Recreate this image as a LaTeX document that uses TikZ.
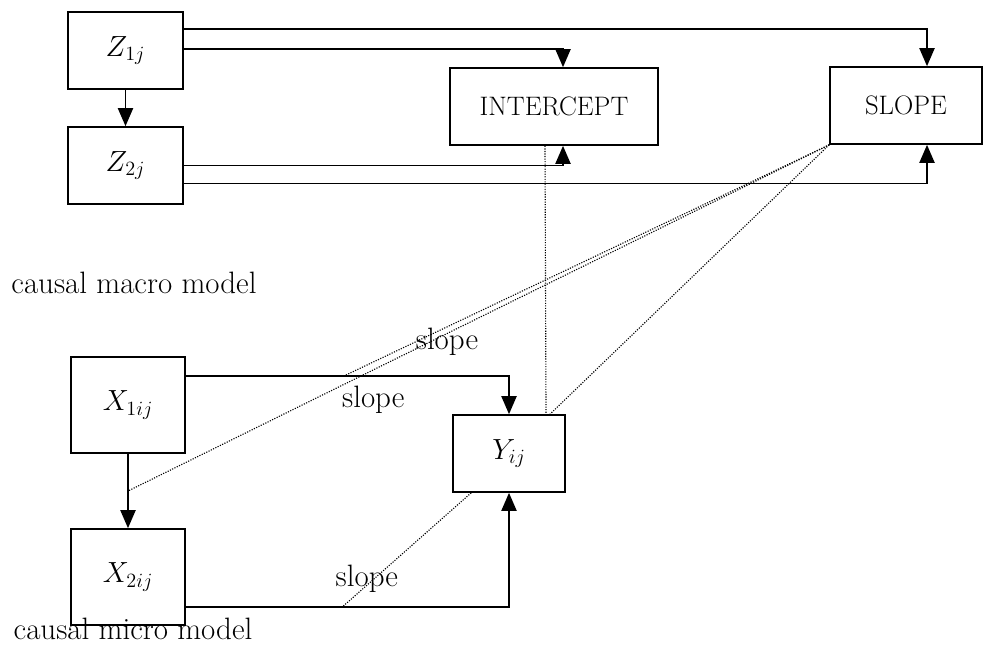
\documentclass[tikz,border=0pt]{standalone}
\usepackage{amssymb}
\usepackage{tikz}
\usetikzlibrary{arrows.meta}

\begin{document}
\begin{tikzpicture}[x=0.025cm,y=-0.025cm,
	box/.style={draw,line width=1.2pt,inner sep=0pt,minimum height=1.925cm,font=\fontsize{22}{26}\selectfont},
	link/.style={line width=1pt,-{Triangle[length=0.45cm,width=0.38cm]}},
	trace/.style={densely dotted,line width=0.8pt},
	lbl/.style={font=\fontsize{22}{26}\selectfont,inner sep=1pt}]
	\useasboundingbox (0,0) rectangle (984,647);
	
	\node[box,minimum width=2.875cm] (z1) at (125.5,50.5) {$Z_{1j}$};
	\node[box,minimum width=2.875cm] (z2) at (125.5,165.5) {$Z_{2j}$};
	\node[box,minimum width=5.2cm,font=\fontsize{19}{23}\selectfont] (icpt) at (554,106.5) {INTERCEPT};
	\node[box,minimum width=3.8cm,font=\fontsize{19}{23}\selectfont] (slope) at (906,105.5) {SLOPE};
	\node[box,minimum width=2.85cm,minimum height=2.4cm] (x1) at (128,405) {$X_{1ij}$};
	\node[box,minimum width=2.85cm,minimum height=2.4cm] (x2) at (128,577) {$X_{2ij}$};
	\node[box,minimum width=2.8cm] (y) at (509,453.5) {$Y_{ij}$};
	
	\node[lbl] (macro) at (134,283) {causal macro model};
	\node[lbl,anchor=south] (micro) at (133,641) {causal micro model};
	\node[lbl] (s0) at (447,342) {slope};
	
	% macro level
	\draw[link] (z1) -- (z2);
	\draw[link] ([yshift=-0.45cm]z1.north east) -| ([xshift=0.525cm]slope.north);
	\draw[link] ([yshift=-0.95cm]z1.north east) -| ([xshift=0.225cm]icpt.north);
	\draw[link] (z2.east) -| ([xshift=0.225cm]icpt.south);
	\draw[link] ([yshift=-0.45cm]z2.east) -| ([xshift=0.525cm]slope.south);
	
	% micro level
	\draw[link] (x1) -- coordinate (m12) (x2);
	\draw[link] ([yshift=-0.5cm]x1.north east) -| coordinate[pos=0.244] (m1y)
		node[lbl,pos=0.29,below=0.2cm] (s1) {slope} (y.north);
	\draw[link] ([yshift=-0.75cm]x2.east) -| coordinate[pos=0.242] (m2y)
		node[lbl,pos=0.28,above=0.3cm] (s2) {slope} (y.south);
	
	% cross level
	\draw[trace] ([xshift=-0.225cm]icpt.south) -- ([xshift=0.925cm]y.north);
	\draw[trace] (slope.south west) -- ([xshift=1.025cm]y.north);
	\draw[trace] (slope.south west) -- (m12);
	\draw[trace] (slope.south west) -- (m1y);
	\draw[trace] ([xshift=0.475cm]y.south west) -- (m2y);
\end{tikzpicture}
\end{document}
